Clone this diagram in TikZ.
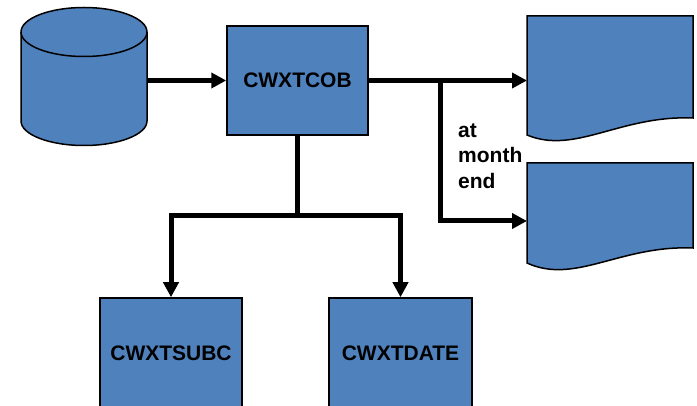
\documentclass[tikz,border=0pt]{standalone}
\usepackage{fontspec}
\setmainfont{Liberation Sans}
\usetikzlibrary{arrows.meta}

\definecolor{boxblue}{RGB}{79,129,189}

\tikzset{
  prog/.style={draw, fill=boxblue, line width=1.5pt, inner sep=0pt,
    font=\fontsize{21}{25}\selectfont\bfseries},
  store/.style={draw, fill=boxblue, line width=1.5pt},
  flow/.style={line width=5pt, -{Triangle[length=15pt,width=15pt]}},
  link/.style={line width=5pt}
}

\begin{document}
\begin{tikzpicture}[x=1pt,y=-1pt]
  \useasboundingbox (0,0) rectangle (697,406);

  % disk file
  \filldraw[store] (21,32) -- (21,121)
    arc[start angle=180,end angle=360,x radius=63pt,y radius=24.5pt]
    -- (147,32)
    arc[start angle=0,end angle=180,x radius=63pt,y radius=24.5pt] -- cycle;
  \draw[line width=1.5pt] (21,32)
    arc[start angle=180,end angle=360,x radius=63pt,y radius=24.5pt];
  \coordinate (disk) at (147,80.5);

  % reports
  \filldraw[store] (527,16) -- (693,16) -- (693,118)
    .. controls (620,115) and (575,155) .. (527,135) -- cycle;
  \filldraw[store] (527,163) -- (693,163) -- (693,248)
    .. controls (620,245) and (575,285) .. (527,263) -- cycle;
  \coordinate (rep1) at (527,80.5);
  \coordinate (rep2) at (527,221);

  % programs
  \node[prog, minimum width=141pt, minimum height=109pt] (cob) at (297.5,80.5) {CWXTCOB};
  \node[prog, minimum width=142pt, minimum height=110pt] (sub) at (171,353) {CWXTSUBC};
  \node[prog, minimum width=143pt, minimum height=110pt] (date) at (400.5,353) {CWXTDATE};

  \coordinate (fork) at (440,80.5);
  \coordinate (junc) at (297.5,216);

  \draw[flow] (disk) -- (cob.west);
  \draw[flow] (cob.east) -- (rep1);
  \draw[flow] (fork) |- (rep2);
  \draw[link] (cob.south) -- (junc);
  \draw[flow] (junc) -| (sub.north);
  \draw[flow] (junc) -| (date.north);

  \node[anchor=west, align=left, inner sep=0pt,
    font=\fontsize{21}{25.5}\selectfont\bfseries] (note) at (458,156) {at\\month\\end};
\end{tikzpicture}
\end{document}
